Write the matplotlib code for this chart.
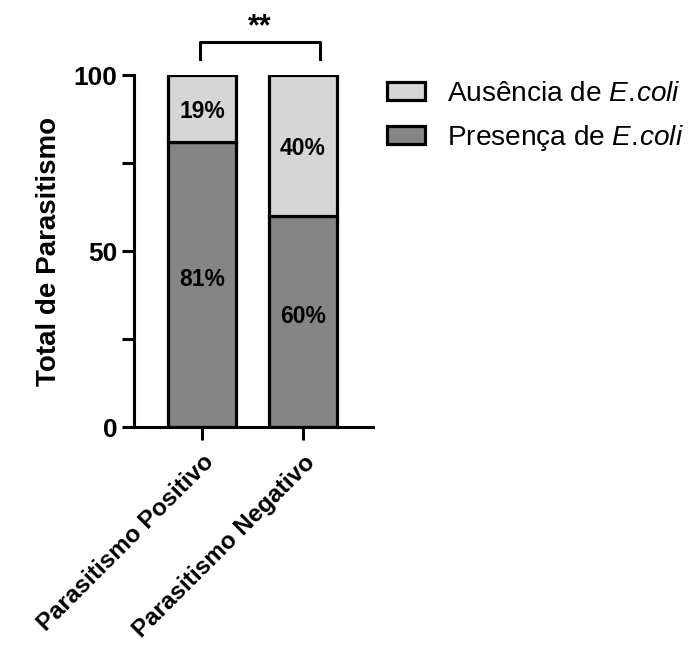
import matplotlib.pyplot as plt
from matplotlib.patches import Patch

plt.rcParams['font.family'] = ['Liberation Sans', 'DejaVu Sans']
plt.rcParams['mathtext.fontset'] = 'custom'
plt.rcParams['mathtext.rm'] = 'Liberation Sans'
plt.rcParams['mathtext.it'] = 'Liberation Sans:italic'

groups = ['Parasitismo Positivo', 'Parasitismo Negativo']
presenca = [81, 60]
ausencia = [19, 40]

dark = '#858585'
light = '#d6d6d6'

fig = plt.figure(figsize=(6.99, 6.48), dpi=100)
ax = fig.add_axes([0.1917, 0.341, 0.3419, 0.5432])

x = range(len(groups))
ax.bar(x, presenca, width=0.67, color=dark, edgecolor='black', linewidth=2.3, zorder=2)
ax.bar(x, ausencia, width=0.67, bottom=presenca, color=light, edgecolor='black',
       linewidth=2.3, zorder=2)

for i in x:
    ax.text(i, presenca[i] / 2 + 1.5, f'{presenca[i]}%', ha='center', va='center',
            fontsize=16.5, fontweight='bold')
    ax.text(i, presenca[i] + ausencia[i] / 2 - 1, f'{ausencia[i]}%', ha='center',
            va='center', fontsize=16.5, fontweight='bold')

ax.set_xlim(-0.673, 1.693)
ax.set_ylim(0, 100)
ax.set_yticks([0, 50, 100])
ax.set_yticks([25, 75], minor=True)
ax.set_xticks(list(x))
ax.set_xticklabels(groups, rotation=45, ha='right', rotation_mode='anchor',
                   fontsize=17.5, fontweight='bold')
for lab in ax.get_yticklabels():
    lab.set_fontsize(19)
    lab.set_fontweight('bold')
ax.tick_params(axis='both', which='major', length=9, width=2.2, color='black')
ax.tick_params(axis='y', which='minor', length=9, width=2.2)
ax.tick_params(axis='x', which='major', pad=8)
ax.tick_params(axis='y', which='major', pad=3)
ax.spines['top'].set_visible(False)
ax.spines['right'].set_visible(False)
ax.spines['left'].set_linewidth(2.2)
ax.spines['bottom'].set_linewidth(2.2)
ax.set_ylabel('Total de Parasitismo', fontsize=20, fontweight='bold', labelpad=8)

# significance bracket
ax.plot([-0.02, -0.02, 1.17, 1.17], [104.5, 109.5, 109.5, 104.5], color='black',
        lw=2.2, clip_on=False)
ax.text(0.575, 113.5, '**', ha='center', va='center', fontsize=22, fontweight='bold')

handles = [Patch(facecolor=light, edgecolor='black', linewidth=2.3),
           Patch(facecolor=dark, edgecolor='black', linewidth=2.3)]
labels = [r'Ausência de $\mathit{E.\!coli}$', r'Presença de $\mathit{E.\!coli}$']
fig.legend(handles, labels, loc='upper left', bbox_to_anchor=(0.534, 0.897),
           frameon=False, fontsize=20.2, borderpad=0, handlelength=1.35,
           handleheight=0.6, labelspacing=0.58, handletextpad=0.78)

fig.savefig('out.png', dpi=100)
